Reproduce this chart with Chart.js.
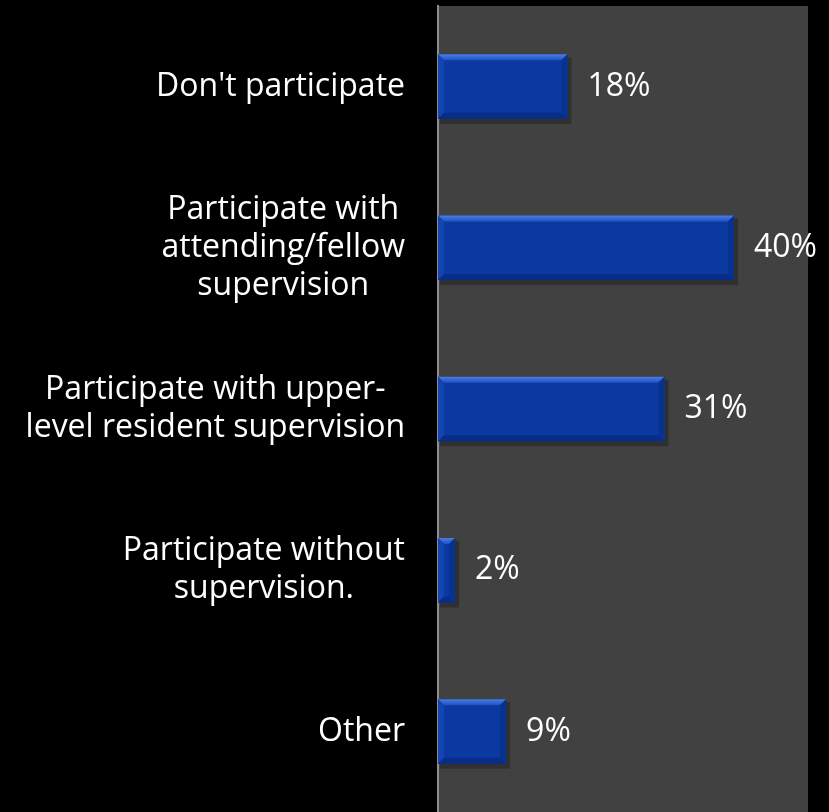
<!DOCTYPE html>
<html lang="en">
<head>
<meta charset="UTF-8">
<title>Participation</title>
<style>
  html, body { margin: 0; padding: 0; background: #000; }
  #wrap { width: 829px; height: 812px; }
</style>
</head>
<body>
<div id="wrap"><canvas id="chart" width="829" height="812"></canvas></div>
<script src="https://cdn.jsdelivr.net/npm/chart.js"></script>
<script>
// categories (each entry = lines of the label)
const categories = [
  ["Don't participate"],
  ["Participate with", "attending/fellow", "supervision"],
  ["Participate with upper-", "level resident supervision"],
  ["Participate without", "supervision."],
  ["Other"]
];
// percent of respondents (labels are rounded)
const values = [17.5, 40, 30.6, 2.3, 9.2];

const FONT = '32px "Open Sans", sans-serif';

// dark plot background
const plotBg = {
  id: 'plotBg',
  beforeDraw(chart) {
    const { ctx, chartArea: a } = chart;
    ctx.save();
    ctx.fillStyle = '#414141';
    ctx.fillRect(a.left, a.top, a.right - a.left, a.bottom - a.top);
    ctx.restore();
  }
};

// category labels: block right-aligned, lines centred inside the block
const catLabels = {
  id: 'catLabels',
  afterDraw(chart) {
    const { ctx } = chart;
    const y = chart.scales.y;
    ctx.save();
    ctx.font = FONT;
    ctx.fillStyle = '#ffffff';
    ctx.textAlign = 'center';
    ctx.textBaseline = 'middle';
    const lh = 38;
    categories.forEach((lines, i) => {
      const w = Math.max(...lines.map(l => ctx.measureText(l).width));
      const cx = 405 - w / 2;
      const cy = y.getPixelForValue(i);
      lines.forEach((l, j) => {
        ctx.fillText(l, cx, cy + (j - (lines.length - 1) / 2) * lh);
      });
    });
    ctx.restore();
  }
};

// shadow under bars
const barShadow = {
  id: 'barShadow',
  beforeDatasetsDraw(chart) {
    const { ctx } = chart;
    ctx.save();
    chart.getDatasetMeta(0).data.forEach(bar => {
      const p = bar.getProps(['x', 'y', 'base', 'height'], true);
      ctx.fillStyle = 'rgba(0,0,0,0.25)';
      ctx.fillRect(p.base + 2, p.y - p.height / 2 + 3, p.x - p.base + 2, p.height + 2);
    });
    ctx.restore();
  }
};

// bevelled bars + value labels
const bevel = {
  id: 'bevel',
  afterDatasetsDraw(chart) {
    const { ctx } = chart;
    const meta = chart.getDatasetMeta(0);
    ctx.save();
    meta.data.forEach((bar, i) => {
      const p = bar.getProps(['x', 'y', 'base', 'height'], true);
      const l = p.base, r = p.x, t = p.y - p.height / 2, b = p.y + p.height / 2;
      const e = Math.min(6, (r - l) / 2);
      let g = ctx.createLinearGradient(0, t, 0, t + e);
      g.addColorStop(0, '#4a7ee0');
      g.addColorStop(1, '#1f52c2');
      ctx.fillStyle = g;
      ctx.beginPath(); ctx.moveTo(l, t); ctx.lineTo(r, t); ctx.lineTo(r - e, t + e); ctx.lineTo(l + e, t + e); ctx.closePath(); ctx.fill();
      ctx.fillStyle = '#1444b0';
      ctx.beginPath(); ctx.moveTo(l, t); ctx.lineTo(l + e, t + e); ctx.lineTo(l + e, b - e); ctx.lineTo(l, b); ctx.closePath(); ctx.fill();
      ctx.fillStyle = '#082d86';
      ctx.beginPath(); ctx.moveTo(l, b); ctx.lineTo(l + e, b - e); ctx.lineTo(r - e, b - e); ctx.lineTo(r, b); ctx.closePath(); ctx.fill();
      ctx.fillStyle = '#083290';
      ctx.beginPath(); ctx.moveTo(r, t); ctx.lineTo(r, b); ctx.lineTo(r - e, b - e); ctx.lineTo(r - e, t + e); ctx.closePath(); ctx.fill();

      ctx.font = FONT;
      ctx.fillStyle = '#ffffff';
      ctx.textAlign = 'left';
      ctx.textBaseline = 'middle';
      ctx.fillText(Math.round(values[i]) + '%', r + 20, p.y);
    });
    ctx.restore();
  }
};

new Chart(document.getElementById('chart'), {
  type: 'bar',
  data: {
    labels: categories,
    datasets: [{
      data: values,
      backgroundColor: '#0a39a2',
      borderWidth: 0,
      categoryPercentage: 1,
      barPercentage: 0.4
    }]
  },
  options: {
    indexAxis: 'y',
    responsive: false,
    animation: false,
    layout: { padding: { left: 0, top: 6, right: 21, bottom: 0 } },
    plugins: { legend: { display: false }, tooltip: { enabled: false } },
    scales: {
      x: { display: false, min: 0, max: 50 },
      y: {
        ticks: { display: false },
        grid: { display: false, drawTicks: false },
        border: { display: true, color: '#8c8c8c', width: 2 },
        afterFit(scale) { scale.width = 438; }
      }
    }
  },
  plugins: [plotBg, barShadow, catLabels, bevel]
});
</script>
</body>
</html>
